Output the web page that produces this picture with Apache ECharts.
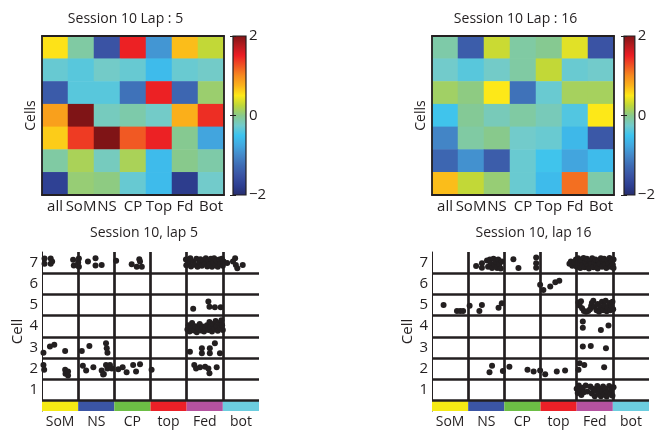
<!DOCTYPE html>
<html><head><meta charset="utf-8">
<script src="https://cdn.jsdelivr.net/npm/echarts@6/dist/echarts.min.js"></script>
<style>html,body{margin:0;padding:0;background:#fff;}#c{width:658px;height:433px;}</style>
</head><body><div id="c"></div>
<script>
// ---------- data ----------
const heatCategories = ['all', 'SoM', 'NS', 'CP', 'Top', 'Fd', 'Bot'];
const cellRows = ['1', '2', '3', '4', '5', '6', '7'];
const heatTitles = ['Session 10 Lap : 5', 'Session 10 Lap : 16'];
const spikeTitles = ['Session 10, lap 5', 'Session 10, lap 16'];
const colorbarTicks = [-2, 0, 2];

// z-scored rates, rows listed top to bottom
const lap5Heat = [
  [0.53, -0.09, -1.5, 1.48, -0.89, 0.7, 0.27],
  [-0.3, -0.37, -0.24, -0.3, -0.57, -0.29, -0.24],
  [-1.42, -0.37, -0.37, -1.19, 1.48, -1.3, 0.09],
  [0.86, 2.0, -0.2, -0.12, -0.24, 0.77, 1.42],
  [0.63, 1.36, 2.0, 1.22, 1.48, -0.02, -0.77],
  [-0.09, 0.16, -0.2, 0.16, -0.57, 0.0, -0.11],
  [-1.72, 0.07, 0.03, -0.3, -0.57, -1.78, -0.25]
];
const lap16Heat = [
  [-0.11, -1.4, 0.3, -0.09, -0.02, 0.39, -1.5],
  [-0.25, -0.37, -0.24, -0.09, 0.27, -0.29, -0.25],
  [0.12, 0.03, 0.5, -1.19, -0.29, 0.14, 0.14],
  [-0.48, -0.04, -0.18, -0.09, -0.18, -0.4, 0.5],
  [-1.03, -0.09, 0.0, -0.25, -0.29, -0.6, -1.45],
  [-1.3, -0.93, -1.4, -0.29, -0.48, -0.77, -0.57],
  [0.7, 0.27, 0.07, -0.29, -0.57, 1.12, -0.11]
];

const regionLabels = ['SoM', 'NS', 'CP', 'top', 'Fed', 'bot'];
const regionEdges = [0, 1, 2, 3, 4, 5, 6];
const regionColors = ['#f5ea14', '#3b55a5', '#6cbe45', '#ec2027', '#b4529f', '#6ccddf'];
const cellBoundaries = [0.5, 1.5, 2.5, 3.5, 4.5, 5.5, 6.5];

// spikes: [position along track, cell (jittered)]
const lap5Spikes = [
  [0.07,7.19],[0.07,6.95],[0.24,7.19],[0.24,6.95],[0.28,7.05],
  [0.86,7.14],[0.88,6.86],[1.0,7.0],[1.02,7.19],[1.02,6.81],[1.27,7.05],[1.48,7.2],[1.48,6.86],[1.65,6.89],
  [2.05,7.09],[2.48,6.92],[2.62,6.81],[2.71,7.05],[2.76,6.81],[2.69,7.16],
  [3.98,7.15],[3.99,6.88],[4.05,7.02],[4.10,7.2],[4.12,6.82],[4.18,7.05],[4.22,6.9],[4.27,7.18],[4.30,6.8],
  [4.35,7.0],[4.38,7.16],[4.42,6.85],[4.46,7.08],[4.50,6.95],[4.53,7.2],[4.57,6.82],[4.60,7.1],[4.63,6.9],
  [4.67,7.18],[4.70,6.8],[4.73,7.02],[4.76,7.2],[4.80,6.88],[4.83,7.1],[4.86,6.8],[4.9,7.15],[4.93,6.95],
  [4.97,7.18],[5.0,6.85],[5.02,7.05],[5.12,6.98],
  [5.28,7.05],[5.34,7.2],[5.36,6.89],[5.40,6.73],[5.55,6.89],
  [4.18,4.82],[4.60,5.16],[4.63,4.92],[4.78,4.89],[4.94,4.89],
  [4.02,3.85],[4.05,4.05],[4.08,3.75],[4.12,3.95],[4.15,4.15],[4.2,3.8],[4.24,4.0],[4.28,3.72],[4.32,3.9],
  [4.36,4.1],[4.4,3.8],[4.44,3.98],[4.48,3.75],[4.52,3.9],[4.56,4.05],[4.6,3.82],[4.63,4.2],[4.66,3.95],
  [4.7,3.75],[4.73,4.1],[4.77,3.88],[4.8,4.25],[4.83,4.0],[4.86,3.78],[4.9,4.15],[4.93,3.92],[4.96,4.28],
  [4.98,4.05],[5.0,3.82],
  [0.04,2.75],[0.22,3.04],[0.34,3.12],[0.64,2.83],
  [1.10,2.83],[1.31,3.07],[1.77,3.19],[1.79,2.96],[1.81,2.75],
  [4.09,2.80],[4.42,2.96],[4.42,2.72],[4.64,2.96],[4.64,2.72],[4.78,3.19],[4.92,2.72],
  [0.04,2.17],[0.06,1.94],[0.64,1.95],[0.65,1.76],[0.72,1.86],[0.72,1.67],
  [1.13,2.14],[1.22,1.91],[1.42,2.06],[1.65,1.91],[1.71,1.75],[1.77,2.17],[1.81,2.01],[1.88,2.17],[1.93,2.01],[1.69,1.72],
  [2.11,1.97],[2.23,2.06],[2.34,1.83],[2.52,2.17],[2.60,1.86],[2.71,2.20],[3.03,1.94],
  [4.21,2.17],[4.26,2.01],[4.37,2.06],[4.51,2.09],[4.60,2.01],[4.63,1.78],[4.83,2.06]
];
const lap16Spikes = [
  [1.22,6.84],[1.38,6.97],[1.38,6.76],
  [1.52,7.1],[1.55,6.8],[1.6,7.15],[1.62,6.95],[1.66,6.75],[1.7,7.18],[1.73,6.9],[1.76,7.05],[1.8,6.75],
  [1.83,7.15],[1.86,6.92],[1.9,6.72],[1.93,7.05],
  [2.25,7.16],[2.39,6.74],[2.88,7.24],[2.88,6.97],[2.88,6.76],
  [3.8,6.95],[3.84,7.05],[3.88,6.85],[3.93,7.0],[3.98,7.15],[4.0,6.8],[4.04,7.2],[4.07,6.95],[4.1,6.75],
  [4.13,7.1],[4.16,6.88],[4.19,7.22],[4.22,6.78],[4.25,7.02],[4.28,7.18],[4.31,6.85],[4.34,6.72],[4.37,7.08],
  [4.4,6.92],[4.43,7.2],[4.46,6.78],[4.49,7.02],[4.52,7.15],[4.55,6.85],[4.58,6.72],[4.61,7.08],[4.64,6.95],
  [4.67,7.2],[4.7,6.8],[4.73,7.05],[4.76,7.18],[4.79,6.9],[4.82,6.75],[4.85,7.1],[4.88,6.95],[4.91,7.22],
  [4.94,6.8],[4.97,7.05],[5.0,6.9],[5.02,7.15],[5.02,6.75],
  [2.99,5.95],[3.08,5.71],[3.27,5.87],[3.41,6.07],[3.52,6.14],
  [0.32,5.0],[0.69,4.72],[0.78,4.72],[0.86,4.72],[1.04,4.97],[1.38,5.0],[1.31,4.72],[1.84,4.87],[1.93,5.08],
  [4.05,5.12],[4.08,4.98],[4.12,5.18],[4.15,4.85],[4.2,4.72],[4.26,4.68],[4.32,4.72],[4.37,4.8],[4.4,4.95],
  [4.42,5.1],[4.46,5.2],[4.5,4.9],[4.55,4.75],[4.58,5.05],[4.62,4.68],[4.66,4.9],[4.7,5.15],[4.73,4.75],
  [4.76,4.98],[4.8,5.2],[4.83,4.7],[4.86,4.88],[4.9,5.1],[4.93,4.75],[4.96,4.95],[4.99,5.15],[5.01,4.8],
  [4.17,4.22],[4.17,3.93],[4.67,3.82],[4.88,4.03],
  [4.17,3.04],[4.39,3.07],[4.81,2.96],
  [1.59,1.83],[1.66,2.14],[1.96,1.89],[2.14,2.09],[2.64,1.94],[2.81,1.86],[2.99,1.91],[3.13,1.73],
  [3.45,1.86],[3.68,1.91],[4.05,1.94],[4.08,2.25],[4.21,2.17],[4.76,2.06],
  [4.0,1.05],[4.03,0.85],[4.06,1.2],[4.1,0.95],[4.13,0.75],[4.17,1.1],[4.2,0.88],[4.25,1.2],[4.3,0.92],
  [4.38,1.15],[4.42,0.82],[4.45,1.05],[4.5,0.7],[4.53,0.95],[4.57,1.18],[4.6,0.8],[4.63,1.05],[4.67,0.7],
  [4.7,0.92],[4.73,1.15],[4.76,0.78],[4.8,1.05],[4.83,0.68],[4.86,0.9],[4.9,1.18],[4.93,0.8],[4.96,1.0],
  [4.99,0.72],[5.02,1.12]
];

// ---------- styling ----------
const INK = '#231f20';
const FONT = '"Open Sans", "Noto Sans", sans-serif';
const jetMuted = ['#262d6c','#2e3f92','#3a53a4','#3e6bb4','#4488c9','#42a8e0','#3cc3ef','#72cbcb',
  '#88c98c','#bdd73a','#fde818','#fbb21a','#f6891f','#f05323','#ec1d24','#b51b1f','#7f1416'];
const gradient = {
  type: 'linear', x: 0, y: 1, x2: 0, y2: 0,
  colorStops: jetMuted.map((c, i) => ({ offset: i / (jetMuted.length - 1), color: c }))
};

function heatData(rows) {
  const out = [];
  rows.forEach((r, ri) => r.forEach((v, ci) => out.push([ci, ri, v])));
  return out;
}

const heatBox = [{ left: 42, top: 36 }, { left: 432, top: 36 }];
const cbarBox = [{ left: 233, top: 36 }, { left: 624, top: 36 }];
const spikeBox = [{ left: 42, top: 252 }, { left: 432, top: 252 }];

const grid = [], xAxis = [], yAxis = [], series = [];
[0, 1].forEach(k => {
  const g0 = grid.length;
  grid.push({ left: heatBox[k].left, top: heatBox[k].top, width: 182, height: 159 });
  grid.push({ left: cbarBox[k].left, top: cbarBox[k].top, width: 13, height: 159, show: true,
    backgroundColor: gradient, borderColor: INK, borderWidth: 1.2 });
  const xb = xAxis.length;
  xAxis.push({ type: 'category', gridIndex: g0, data: heatCategories, position: 'bottom', z: 5,
    axisLine: { lineStyle: { color: INK, width: 1.8 } },
    axisTick: { inside: true, length: 3, alignWithLabel: true, lineStyle: { color: INK } },
    axisLabel: { color: INK, fontFamily: FONT, fontSize: 15, margin: 4, interval: 0 } });
  xAxis.push({ type: 'category', gridIndex: g0, data: heatCategories, position: 'top', z: 5,
    axisLine: { lineStyle: { color: INK, width: 1.8 } },
    axisTick: { inside: true, length: 3, alignWithLabel: true, lineStyle: { color: INK } },
    axisLabel: { show: false } });
  xAxis.push({ type: 'value', gridIndex: g0 + 1, show: false, min: 0, max: 1 });
  const yb = yAxis.length;
  yAxis.push({ type: 'category', gridIndex: g0, data: cellRows, inverse: true, position: 'left', z: 5,
    name: 'Cells', nameLocation: 'middle', nameGap: 4, nameRotate: 90,
    nameTextStyle: { color: INK, fontFamily: FONT, fontSize: 14 },
    axisLine: { lineStyle: { color: INK, width: 1.8 } }, axisTick: { show: false }, axisLabel: { show: false } });
  yAxis.push({ type: 'category', gridIndex: g0, data: cellRows, inverse: true, position: 'right', z: 5,
    axisLine: { lineStyle: { color: INK, width: 1.8 } }, axisTick: { show: false }, axisLabel: { show: false } });
  yAxis.push({ type: 'value', gridIndex: g0 + 1, min: colorbarTicks[0], max: colorbarTicks[2], interval: 2, position: 'right',
    axisLine: { show: false }, splitLine: { show: false },
    axisTick: { inside: true, length: 3, lineStyle: { color: INK } },
    axisLabel: { color: INK, fontFamily: FONT, fontSize: 15, margin: 3,
      formatter: v => colorbarTicks.includes(v) ? String(v).replace('-', '\u2212') : '' } });
  yAxis.push({ type: 'value', gridIndex: g0 + 1, min: colorbarTicks[0], max: colorbarTicks[2], interval: 2, position: 'left',
    axisLine: { show: false }, splitLine: { show: false },
    axisTick: { inside: true, length: 3, lineStyle: { color: INK } }, axisLabel: { show: false } });
  series.push({ type: 'heatmap', xAxisIndex: xb, yAxisIndex: yb,
    data: heatData(k === 0 ? lap5Heat : lap16Heat), silent: true, animation: false, z: 2 });
});

[0, 1].forEach(k => {
  const g = grid.length;
  grid.push({ left: spikeBox[k].left, top: spikeBox[k].top, width: 217, height: 159 });
  const xv = xAxis.length;
  xAxis.push({ type: 'value', gridIndex: g, min: regionEdges[0], max: regionEdges[regionEdges.length - 1], show: false });
  xAxis.push({ type: 'category', gridIndex: g, data: regionLabels, position: 'bottom',
    axisLine: { show: false }, axisTick: { show: false },
    axisLabel: { color: INK, fontFamily: FONT, fontSize: 14, margin: 4, interval: 0 } });
  const yv = yAxis.length;
  yAxis.push({ type: 'value', gridIndex: g, min: 0, max: 7.5, interval: 1,
    name: 'Cell', nameLocation: 'middle', nameGap: 17, nameRotate: 90,
    nameTextStyle: { color: INK, fontFamily: FONT, fontSize: 15 },
    axisLine: { show: true, lineStyle: { color: INK, width: 1 } },
    axisTick: { show: false }, splitLine: { show: false },
    axisLabel: { color: INK, fontFamily: FONT, fontSize: 15, margin: 4,
      formatter: v => (v >= 1 && v <= 7) ? String(v) : '' } });
  const lines = cellBoundaries.map(b => ({ yAxis: b }));
  regionEdges.slice(1, -1).forEach(e => lines.push([{ coord: [e, cellBoundaries[0]] }, { coord: [e, 7.5] }]));
  const bands = regionLabels.map((r, i) => [
    { coord: [regionEdges[i], 0], itemStyle: { color: regionColors[i], opacity: 1 } },
    { coord: [regionEdges[i + 1], cellBoundaries[0]] }
  ]);
  series.push({ type: 'scatter', xAxisIndex: xv, yAxisIndex: yv, symbolSize: 6,
    itemStyle: { color: INK, opacity: 1 }, silent: true, animation: false, z: 3,
    data: k === 0 ? lap5Spikes : lap16Spikes,
    markLine: { silent: true, symbol: ['none', 'none'], animation: false, label: { show: false },
      lineStyle: { color: INK, width: 2.7, type: 'solid' }, emphasis: { disabled: true }, data: lines },
    markArea: { silent: true, animation: false, data: bands } });
});

const titleText = (text, x, y) => ({ type: 'text', x: x, y: y,
  style: { text: text, fill: INK, font: '14px ' + FONT, textAlign: 'center', textVerticalAlign: 'middle' } });

const option = {
  animation: false,
  backgroundColor: '#fff',
  grid: grid, xAxis: xAxis, yAxis: yAxis, series: series,
  visualMap: { type: 'continuous', show: false, min: -2, max: 2, seriesIndex: [0, 1],
    inRange: { color: jetMuted } },
  graphic: [
    titleText(heatTitles[0], 125.5, 19),
    titleText(heatTitles[1], 515.5, 19),
    titleText(spikeTitles[0], 144, 233),
    titleText(spikeTitles[1], 533.5, 233)
  ]
};
const chart = echarts.init(document.getElementById('c'), null, { renderer: 'canvas' });
chart.setOption(option);
</script></body></html>
